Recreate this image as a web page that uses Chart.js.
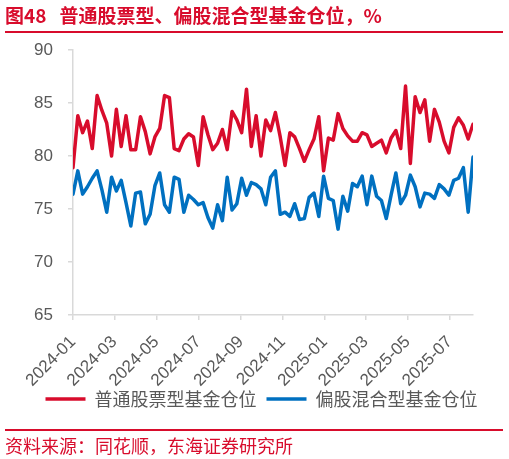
<!DOCTYPE html>
<html><head><meta charset="utf-8">
<script src="https://cdn.jsdelivr.net/npm/chart.js@4.4.1/dist/chart.umd.min.js"></script>
<style>
html,body{margin:0;padding:0;background:#fff;width:509px;height:459px;overflow:hidden;}
#title{position:absolute;left:5px;top:3px;font-family:"Noto Sans CJK SC";font-weight:bold;font-size:19px;color:#D80C2C;white-space:nowrap;line-height:24px;}
.rule{position:absolute;left:5px;width:498px;height:2px;background:#D80C2C;}
#src{position:absolute;left:5px;top:434px;font-family:"Noto Sans CJK SC";font-size:18px;color:#D80C2C;line-height:22px;white-space:nowrap;}
#wrap{position:absolute;left:0;top:0;width:509px;height:459px;}
</style></head><body>
<div id="wrap"><canvas id="c" width="509" height="459"></canvas></div>
<div id="title">图48<span style="margin-left:13px">普通股票型、偏股混合型基金仓位，%</span></div>
<div class="rule" style="top:31px"></div>
<div class="rule" style="top:429px"></div>
<div id="src">资料来源：同花顺，东海证券研究所</div>
<script>
// weekly observations (Fridays) starting from this date
const startDate = '2024-01-05';
const tickLabels = ['2024-01','2024-03','2024-05','2024-07','2024-09','2024-11','2025-01','2025-03','2025-05','2025-07'];
const yTicks = [65, 70, 75, 80, 85, 90];
const seriesNames = ['普通股票型基金仓位', '偏股混合型基金仓位'];
const stockFund = [
  78.9, 83.8, 82.2, 83.3, 80.7, 85.7, 84.3, 83.1, 80.0, 84.4, 80.9, 83.8, 80.6, 80.6, 83.7, 82.3, 80.2, 81.8, 82.6, 85.7,
  85.5, 80.7, 80.5, 81.6, 82.1, 81.8, 79.1, 83.7, 82.0, 80.6, 81.2, 82.5, 80.6, 84.2, 83.4, 82.2, 86.3, 80.9, 83.8, 80.0,
  83.4, 82.4, 84.1, 81.8, 79.1, 82.2, 81.8, 80.7, 79.5, 80.6, 81.6, 83.7, 78.6, 81.7, 81.5, 84.0, 82.6, 81.9, 81.4, 81.4,
  82.2, 82.0, 80.9, 81.2, 81.5, 80.3, 81.7, 82.4, 80.7, 86.6, 79.3, 85.6, 84.1, 85.3, 81.4, 84.4, 83.2, 81.4, 80.3, 82.7,
  83.6, 82.9, 81.6, 83.0
];
const mixedFund = [
  76.4, 78.6, 76.4, 77.1, 77.9, 78.6, 76.8, 74.7, 78.0, 76.7, 77.7, 75.6, 73.4, 76.5, 76.6, 73.6, 74.5, 77.2, 78.4, 75.4,
  74.7, 78.0, 77.8, 74.7, 76.3, 75.9, 75.4, 75.6, 74.2, 73.2, 75.4, 73.9, 78.0, 74.9, 75.5, 77.9, 76.3, 77.5, 77.3, 76.9,
  75.4, 78.0, 78.6, 74.5, 74.7, 74.3, 75.5, 74.0, 74.1, 76.1, 76.5, 74.3, 78.1, 76.0, 75.8, 73.1, 76.2, 74.8, 77.4, 77.1,
  78.1, 75.4, 78.1, 76.2, 75.8, 74.1, 76.3, 78.4, 75.5, 76.3, 78.2, 77.1, 75.2, 76.5, 76.4, 76.0, 77.3, 76.9, 76.3, 77.7,
  77.9, 78.9, 74.7, 79.9
];

const DAY = 86400000;
const t0 = Date.parse(startDate + 'T00:00:00Z');
const dayOf = s => Math.round((Date.parse(s + 'T00:00:00Z') - t0) / DAY);
const dates = stockFund.map((_, i) => new Date(t0 + i * 7 * DAY).toISOString().slice(0, 10));
const xs = dates.map(dayOf);
const tickDays = tickLabels.map(l => dayOf(l + '-05'));

const RED = '#D80C2C', BLUE = '#0070C0', GRID = '#D9D9D9', TXT = '#595959';
const tickFont = {family: '"Liberation Sans", Arial, sans-serif', size: 17};

// let rotated x labels extend below the (fixed-height) axis box without being clipped
const unclipLabels = {id: 'unclipLabels', afterLayout(chart) { chart.scales.x.bottom += 14; }};

new Chart(document.getElementById('c'), {
  type: 'line',
  data: {
    datasets: [
      {label: seriesNames[0], data: stockFund.map((v, i) => ({x: xs[i], y: v})), borderColor: RED, backgroundColor: RED,
       borderWidth: 3.5, pointRadius: 0, tension: 0, borderJoinStyle: 'round', borderCapStyle: 'round'},
      {label: seriesNames[1], data: mixedFund.map((v, i) => ({x: xs[i], y: v})), borderColor: BLUE, backgroundColor: BLUE,
       borderWidth: 3.5, pointRadius: 0, tension: 0, borderJoinStyle: 'round', borderCapStyle: 'round'}
    ]
  },
  plugins: [unclipLabels],
  options: {
    responsive: false, animation: false, devicePixelRatio: 1,
    layout: {padding: {top: 50, left: 14, right: 0, bottom: 41}},
    plugins: {
      tooltip: {enabled: false},
      legend: {
        position: 'bottom',
        labels: {usePointStyle: true, pointStyle: 'line', pointStyleWidth: 40, boxHeight: 4, padding: 10,
                 color: TXT, font: {family: '"Noto Sans CJK SC"', size: 18}}
      }
    },
    scales: {
      x: {
        type: 'linear', min: 0, max: xs[xs.length - 1],
        afterBuildTicks: s => { s.ticks = tickDays.map(v => ({value: v})); },
        afterFit: s => { s.height = 65; },
        grid: {drawOnChartArea: false, drawTicks: true, tickLength: 5, color: GRID, lineWidth: 1.5},
        border: {color: GRID, width: 1.5},
        ticks: {autoSkip: false, minRotation: 45, maxRotation: 45, color: TXT, font: tickFont, padding: 12,
                callback: (v, i) => tickLabels[i]}
      },
      y: {
        min: yTicks[0], max: yTicks[yTicks.length - 1],
        afterBuildTicks: s => { s.ticks = yTicks.map(v => ({value: v})); },
        afterFit: s => { s.width = 59; },
        grid: {drawOnChartArea: false, drawTicks: true, tickLength: 5, color: GRID, lineWidth: 1.5},
        border: {color: GRID, width: 1.5},
        ticks: {color: TXT, font: tickFont, padding: 15}
      },
      yPad: {
        position: 'right', display: true,
        grid: {display: false}, border: {display: false}, ticks: {display: false},
        afterFit: s => { s.width = 36; }
      }
    }
  }
});
</script>
</body></html>
